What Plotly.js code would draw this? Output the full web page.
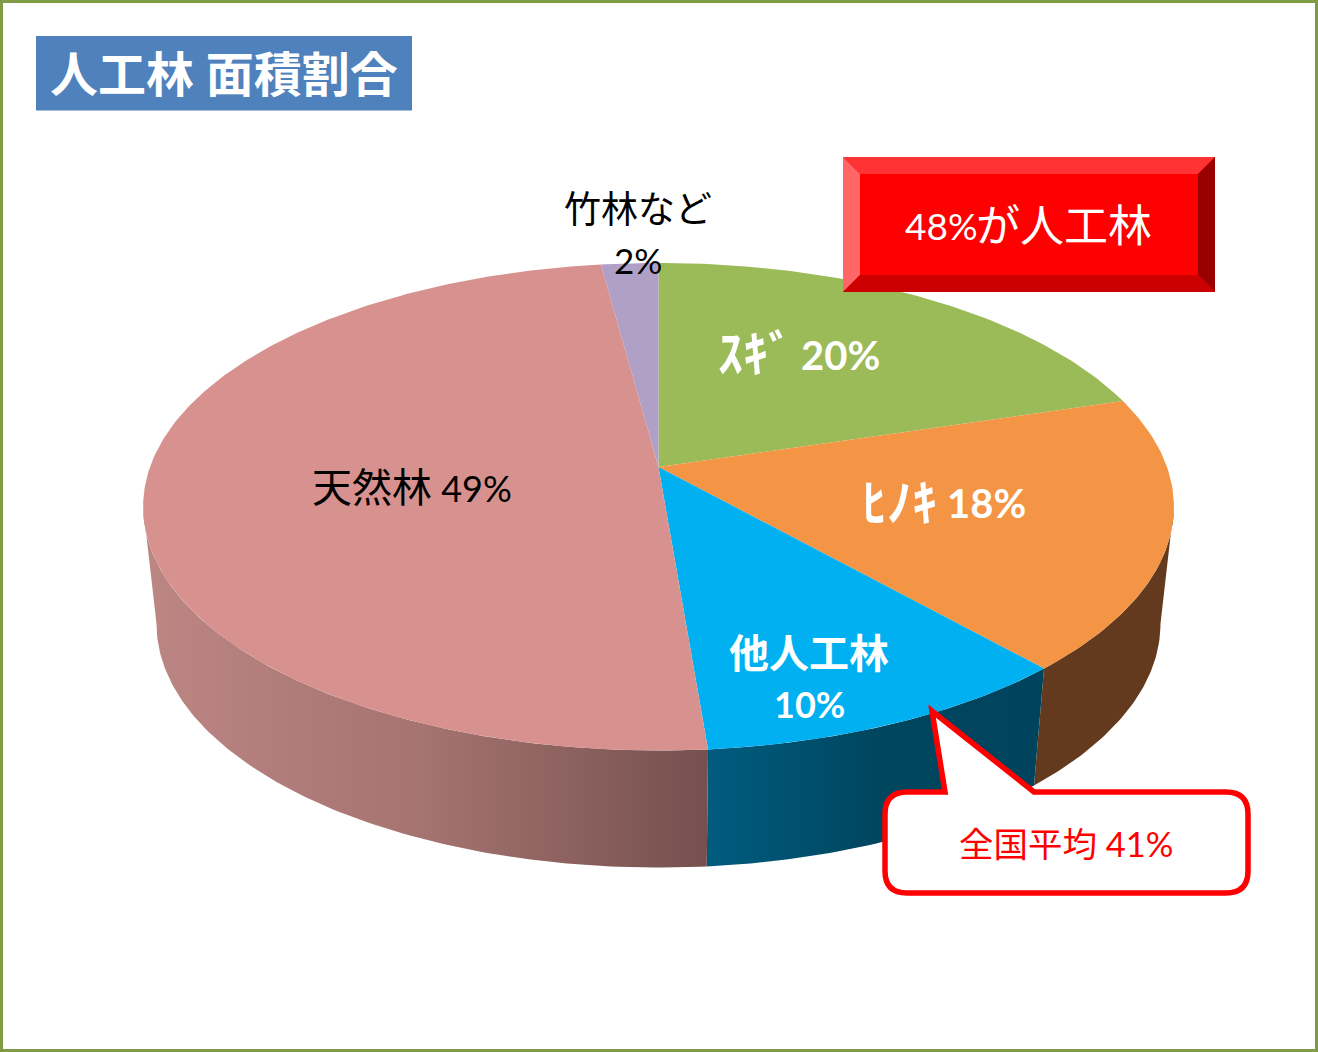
<!DOCTYPE html>
<html><head><meta charset="utf-8">
<script src="https://cdn.plot.ly/plotly-3.0.1.min.js"></script>
<style>html,body{margin:0;padding:0;background:#fff;overflow:hidden}</style>
</head><body><div id="chart" style="width:1318px;height:1052px"></div>
<script>
// ---- data ----
const categories = ["スギ", "ヒノキ", "他人工林", "天然林", "竹林など"];
const sliceShares = [20.3, 18.1, 10.3, 49.2, 2.1];
const topColors = ["#9BBB59", "#F39545", "#00B0F0", "#D79290", "#B0A0C6"];
const sliceNames = ["ｽｷﾞ", "ﾋﾉｷ", "他人工林", "天然林", "竹林など"];
const slicePercents = ["20%", "18%", "10%", "49%", "2%"];
const titleText = "人工林 面積割合";
const boxPercent = "48%";
const boxWords = "が人工林";
const calloutText = "全国平均 41%";

// ---- projection of the tilted disc onto the page ----
const cx = 658.5, cy = 467, A = 508.5, B = 237.3, K = 0.163, DEPTH = 117, SHRINK = 0.974;
function rim(frac, lower) {
  const t = frac * 2 * Math.PI, X = Math.sin(t), Y = Math.cos(t), w = 1 + K * Y;
  return lower ? [cx + SHRINK * A * X / w, cy + DEPTH - B * Y / w]
               : [cx + A * X / w, cy - B * Y / w];
}
function arc(f0, f1, lower) {
  const n = Math.max(2, Math.ceil(Math.abs(f1 - f0) / 0.002)), pts = [];
  for (let i = 0; i <= n; i++) pts.push(rim(f0 + (f1 - f0) * i / n, lower));
  return pts;
}
const total = sliceShares.reduce((a, b) => a + b, 0);
let acc = 0;
const ranges = sliceShares.map(v => { const s = acc / total; acc += v; return [s, acc / total]; });
const tangent = Math.acos(-K) / (2 * Math.PI);

const wallStyles = {
  1: {color: "#633A1D"},
  2: {grad: [[0, "#005C7F"], [0.5, "#00465F"], [1, "#00435C"]]},
  3: {grad: [[0, "#BC8683"], [0.5, "#A57370"], [1, "#74504E"]]}
};
function poly(pts, extra) {
  return Object.assign({
    x: pts.map(p => p[0]), y: pts.map(p => p[1]), type: "scatter", mode: "lines",
    fill: "toself", line: {width: 0}, hoverinfo: "skip", showlegend: false
  }, extra);
}
const traces = [];
ranges.forEach((r, i) => {
  const a = Math.max(r[0], tangent), b = Math.min(r[1], 1 - tangent);
  if (a >= b) return;
  const pts = arc(a, b, false).concat(arc(b, a, true));
  const st = wallStyles[i];
  traces.push(poly(pts, st.grad
    ? {fillcolor: st.grad[0][1], fillgradient: {type: "horizontal", colorscale: st.grad}}
    : {fillcolor: st.color}));
});
ranges.forEach((r, i) => {
  traces.push(poly([[cx, cy]].concat(arc(r[0], r[1], false)), {fillcolor: topColors[i], name: categories[i]}));
});

// ---- page furniture ----
function rect(x0, y0, x1, y1, fill, line, lw) {
  return {type: "rect", xref: "x", yref: "y", x0, y0, x1, y1, fillcolor: fill,
          line: line ? {color: line, width: lw} : {width: 0}, layer: "above"};
}
function path(d, fill, line, lw) {
  return {type: "path", xref: "x", yref: "y", path: d, fillcolor: fill,
          line: line ? {color: line, width: lw} : {width: 0}, layer: "above"};
}
const shapes = [
  rect(1.5, 1.5, 1316.5, 1050.5, "rgba(0,0,0,0)", "#7F9B45", 3),
  rect(36, 36, 412, 110.5, "#4F81BD"),
  rect(843, 157, 1215, 292, "#FF0000"),
  path("M843,157 L1215,157 L1198,174 L860,174 Z", "#FF3333"),
  path("M843,157 L860,174 L860,275 L843,292 Z", "#FF6666"),
  path("M1215,157 L1215,292 L1198,275 L1198,174 Z", "#990000"),
  path("M843,292 L860,275 L1198,275 L1215,292 Z", "#CC0000"),
  path("M907,792 L945,792 L932,711 L1034,792 L1226,792 Q1248,792 1248,814 L1248,871 Q1248,893 1226,893 L907,893 Q885,893 885,871 L885,814 Q885,792 907,792 Z", "#FFFFFF", "#FF0000", 5.5)
];
const FONT = "Lato, 'Noto Sans CJK JP', sans-serif";
function sized(text, size) { return '<span style="font-size:' + size + 'px">' + text + '</span>'; }
function note(text, x, y, size, color, bold) {
  return {text: bold ? "<b>" + text + "</b>" : text, x, y, xref: "x", yref: "y", showarrow: false,
          xanchor: "center", yanchor: "middle", font: {family: FONT, size, color}};
}
const annotations = [
  note(titleText, 224, 73, 48, "#FFFFFF", true),
  note(boxPercent, 941, 225, 37, "#FFFFFF", false),
  note(boxWords, 1064, 225, 44, "#FFFFFF", false),
  note(calloutText, 1066, 843, 34.5, "#FF0000", false),
  note(sliceNames[0], 755, 353, 50, "#FFFFFF", true),
  note(slicePercents[0], 840, 355, 40, "#FFFFFF", true),
  note(sliceNames[1], 899, 502, 50, "#FFFFFF", true),
  note(slicePercents[1], 986, 503, 40, "#FFFFFF", true),
  note(sliceNames[2], 809, 653, 40, "#FFFFFF", true),
  note(slicePercents[2], 809, 704, 36, "#FFFFFF", true),
  note(sized(sliceNames[3], 40) + " " + slicePercents[3], 412, 487, 36, "#000000", false),
  note(sliceNames[4], 638, 208, 37, "#000000", false),
  note(slicePercents[4], 638, 260, 35, "#000000", false)
];
const axis = {visible: false, fixedrange: true};
Plotly.newPlot("chart", traces, {
  width: 1318, height: 1052, margin: {l: 0, r: 0, t: 0, b: 0},
  paper_bgcolor: "#FFFFFF", plot_bgcolor: "#FFFFFF",
  xaxis: Object.assign({range: [0, 1318]}, axis),
  yaxis: Object.assign({range: [1052, 0]}, axis),
  shapes, annotations, showlegend: false, hovermode: false
}, {displayModeBar: false, staticPlot: true});
</script></body></html>
